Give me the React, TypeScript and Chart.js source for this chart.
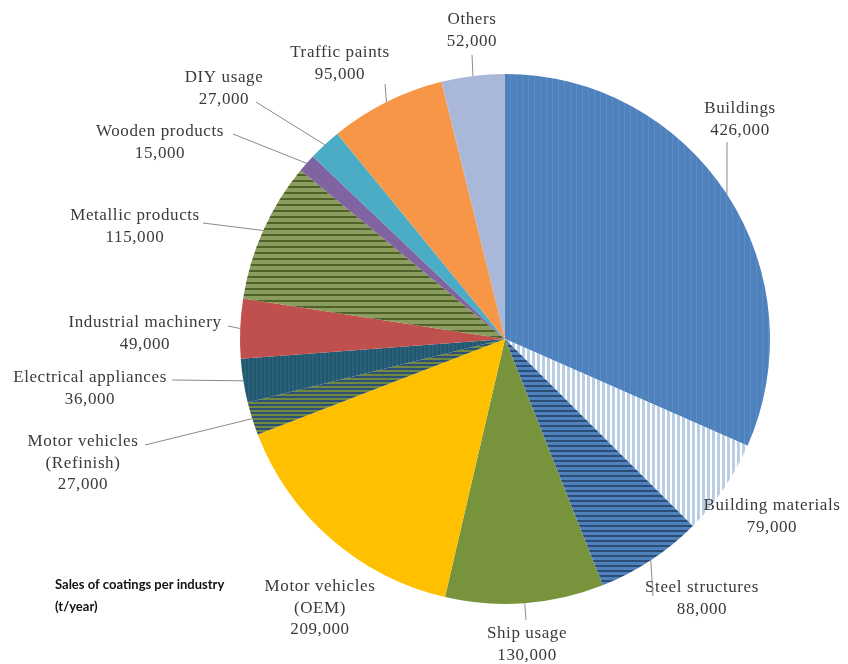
import React, { useEffect, useRef } from "react";
import { Chart, registerables } from "chart.js";

Chart.register(...registerables);

const categories = [
  "Buildings",
  "Building materials",
  "Steel structures",
  "Ship usage",
  "Motor vehicles\n(OEM)",
  "Motor vehicles\n(Refinish)",
  "Electrical appliances",
  "Industrial machinery",
  "Metallic products",
  "Wooden products",
  "DIY usage",
  "Traffic paints",
  "Others",
];

const values = [426000, 79000, 88000, 130000, 209000, 27000, 36000, 49000, 115000, 15000, 27000, 95000, 52000];

const titleLines = ["Sales of coatings per industry", "(t/year)"];

// label layout: offset of first text line centre from pie centre, and leader-line start offset (or null)
const labelLayout: { dx: number; dy: number; line: [number, number] | null }[] = [
  { dx: 235, dy: -230, line: [222, -197] },
  { dx: 267, dy: 167, line: null },
  { dx: 197, dy: 249, line: [148, 257] },
  { dx: 22, dy: 295, line: [21, 281] },
  { dx: -185, dy: 248, line: null },
  { dx: -422, dy: 103, line: [-360, 106] },
  { dx: -415, dy: 39, line: [-333, 41] },
  { dx: -360, dy: -16, line: [-277, -13] },
  { dx: -370, dy: -123, line: [-302, -116] },
  { dx: -345, dy: -207, line: [-272, -205] },
  { dx: -281, dy: -261, line: [-249, -237] },
  { dx: -165, dy: -286, line: [-120, -255] },
  { dx: -33, dy: -319, line: [-33, -284] },
];

function stripes(
  base: string,
  stripe: string,
  size: number,
  stripeWidth: number,
  vertical: boolean
): CanvasPattern | string {
  const c = document.createElement("canvas");
  c.width = size;
  c.height = size;
  const g = c.getContext("2d");
  if (!g) return base;
  g.fillStyle = base;
  g.fillRect(0, 0, size, size);
  g.fillStyle = stripe;
  if (vertical) g.fillRect(0, 0, stripeWidth, size);
  else g.fillRect(0, 0, size, stripeWidth);
  const p = g.createPattern(c, "repeat");
  return p || base;
}

export default function App() {
  const ref = useRef<HTMLCanvasElement | null>(null);

  useEffect(() => {
    document.body.style.margin = "0";
    document.body.style.overflow = "hidden";
    if (!ref.current) return;
    const colors = [
      stripes("#4f81bd", "#5a8cc8", 6, 1, true),
      stripes("#b9cde5", "#ffffff", 5, 2, true),
      stripes("#4f81bd", "#2c4d75", 5, 2, false),
      "#77933c",
      "#ffc000",
      stripes("#6f8a3e", "#2f4f73", 4, 2, false),
      stripes("#215968", "#2b5f80", 4, 2, true),
      "#c0504d",
      stripes("#8a9c5e", "#4f6228", 6, 2, false),
      "#8064a2",
      "#4bacc6",
      "#f79646",
      "#a9b8d9",
    ];

    const labelPlugin = {
      id: "outerLabels",
      afterDraw(chart: any) {
        const ctx = chart.ctx as CanvasRenderingContext2D;
        const meta = chart.getDatasetMeta(0);
        ctx.save();
        meta.data.forEach((arc: any, i: number) => {
          const p = arc.getProps(["x", "y", "startAngle", "endAngle", "outerRadius"], true);
          const lay = labelLayout[i];
          const lines = [...categories[i].split("\n"), values[i].toLocaleString("en-US")];
          ctx.font = "17px 'Liberation Serif', 'Times New Roman', serif";
          (ctx as any).letterSpacing = "0.6px";
          ctx.fillStyle = "#3a3a3a";
          ctx.textAlign = "center";
          ctx.textBaseline = "middle";
          lines.forEach((t, k) => {
            ctx.fillText(t, p.x + lay.dx, p.y + lay.dy + k * 21.5);
          });
          if (lay.line) {
            const mid = (p.startAngle + p.endAngle) / 2;
            ctx.beginPath();
            ctx.strokeStyle = "#8a8a8a";
            ctx.lineWidth = 1;
            ctx.moveTo(p.x + lay.line[0], p.y + lay.line[1]);
            ctx.lineTo(p.x + Math.cos(mid) * p.outerRadius, p.y + Math.sin(mid) * p.outerRadius);
            ctx.stroke();
          }
        });
        (ctx as any).letterSpacing = "0px";
        ctx.font = "bold 13px Lato, 'Liberation Sans', sans-serif";
        ctx.fillStyle = "#111";
        ctx.textAlign = "left";
        ctx.textBaseline = "middle";
        titleLines.forEach((t, k) => ctx.fillText(t, 55, 585 + k * 22));
        ctx.restore();
      },
    };

    const chart = new Chart(ref.current, {
      type: "pie",
      data: {
        labels: categories,
        datasets: [
          {
            data: values,
            backgroundColor: colors as any,
            borderWidth: 0,
          },
        ],
      },
      options: {
        animation: false,
        responsive: true,
        maintainAspectRatio: false,
        layout: { padding: { left: 240, right: 78, top: 74, bottom: 60 } },
        plugins: {
          legend: { display: false },
          tooltip: { enabled: false },
        },
      },
      plugins: [labelPlugin],
    });
    return () => chart.destroy();
  }, []);

  return (
    <div style={{ width: 848, height: 664, position: "relative" }}>
      <canvas ref={ref} />
    </div>
  );
}
